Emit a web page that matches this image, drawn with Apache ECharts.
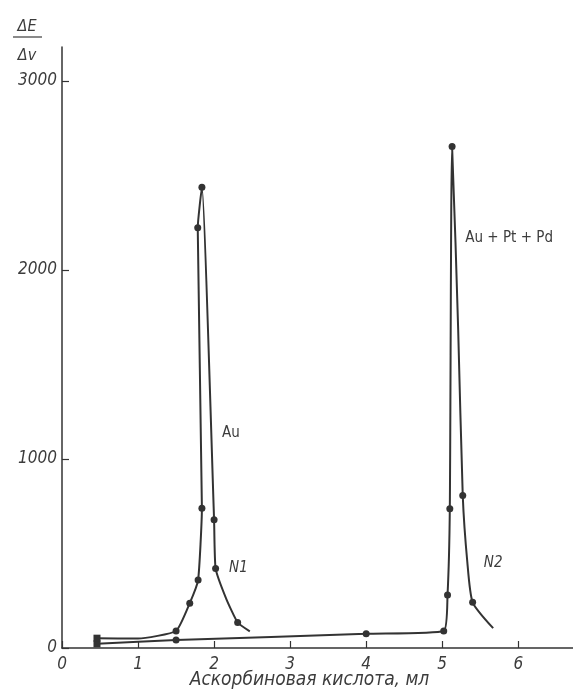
<!DOCTYPE html>
<html>
<head>
<meta charset="utf-8">
<script src="https://cdn.jsdelivr.net/npm/echarts@6/dist/echarts.min.js"></script>
<style>
html,body{margin:0;padding:0;background:#fff;}
#chart{width:573px;height:693px;}
</style>
</head>
<body>
<div id="chart"></div>
<script>
// ---- data ----
// Curve N1 (Au)
const auX = [0.46, 1.0, 1.5, 1.68, 1.79, 1.84, 1.785, 1.84, 2.0, 2.02, 2.16, 2.31, 2.47];
const auY = [52, 50, 90, 237, 360, 740, 2223, 2438, 679, 421, 260, 135, 88];
const auMeasured = [1, 0, 1, 1, 1, 1, 1, 1, 1, 1, 0, 1, 0];
// Curve N2 (Au + Pt + Pd)
const mixX = [0.46, 1.5, 4.0, 5.02, 5.07, 5.10, 5.13, 5.21, 5.27, 5.33, 5.40, 5.67];
const mixY = [22, 42, 75, 90, 281, 737, 2653, 1684, 807, 456, 242, 105];
const mixMeasured = [1, 1, 1, 1, 1, 1, 1, 0, 1, 0, 1, 0];
// tick labels
const xTicks = [0, 1, 2, 3, 4, 5, 6];
const yTicks = [0, 1000, 2000, 3000];
// annotations [x, y, text, italic]
const notes = [
  [2.22, 1135, 'Au', false],
  [2.32, 425, 'N1', true],
  [5.88, 2170, 'Au + Pt + Pd', false],
  [5.67, 450, 'N2', true]
];
const xTitle = 'Аскорбиновая кислота, мл';
const yTitleTop = 'ΔE';
const yTitleBottom = 'Δv';

const INK = '#333333';
const TXT = '#3c3c3c';
const FONT = '"DejaVu Sans Condensed", "DejaVu Sans", sans-serif';

function build(xs, ys, measured) {
  return xs.map((x, i) => ({
    value: [x, ys[i]],
    symbol: measured[i] ? (i === 0 ? 'rect' : 'circle') : 'none'
  }));
}

const chart = echarts.init(document.getElementById('chart'), null, {renderer: 'canvas'});
const option = {
  backgroundColor: '#ffffff',
  animation: false,
  grid: {left: 62, right: 0, top: 47, bottom: 45, containLabel: false, outerBoundsMode: 'none'},
  xAxis: {
    type: 'value', min: 0, max: 6.72,
    axisLine: {show: true, lineStyle: {color: INK, width: 1.5}},
    axisTick: {show: true, inside: true, length: 7, customValues: xTicks, lineStyle: {color: INK, width: 1.2}},
    axisLabel: {customValues: xTicks, margin: 8, color: TXT, fontFamily: FONT, fontStyle: 'italic', fontSize: 17,
      formatter: v => String(v)},
    splitLine: {show: false},
    name: xTitle, nameLocation: 'middle', nameGap: 23, nameMoveOverlap: false,
    nameTextStyle: {color: TXT, fontFamily: FONT, fontStyle: 'italic', fontSize: 19, padding: [0, 16, 0, 0]}
  },
  yAxis: {
    type: 'value', min: 0, max: 3180,
    axisLine: {show: true, lineStyle: {color: INK, width: 1.5}},
    axisTick: {show: true, inside: true, length: 7, customValues: yTicks, lineStyle: {color: INK, width: 1.2}},
    axisLabel: {customValues: yTicks, margin: 5, color: TXT, fontFamily: FONT, fontStyle: 'italic', fontSize: 17,
      formatter: v => String(v)},
    splitLine: {show: false}
  },
  series: [
    {
      type: 'line', data: build(mixX, mixY, mixMeasured), smooth: 0.2,
      symbolSize: 7, lineStyle: {color: INK, width: 2}, itemStyle: {color: INK}
    },
    {
      type: 'line', data: build(auX, auY, auMeasured), smooth: 0.15,
      symbolSize: 7, lineStyle: {color: INK, width: 2}, itemStyle: {color: INK}
    }
  ]
};
chart.setOption(option);

const g = notes.map(n => {
  const p = chart.convertToPixel({gridIndex: 0}, [n[0], n[1]]);
  return {
    type: 'text', x: p[0], y: p[1],
    style: {text: n[2], fill: TXT, font: (n[3] ? 'italic ' : '') + '15px ' + FONT, align: 'center', verticalAlign: 'middle'}
  };
});
g.push(
  {type: 'text', x: 27, y: 27, style: {text: yTitleTop, fill: TXT, font: 'italic 16px ' + FONT, align: 'center', verticalAlign: 'middle'}},
  {type: 'line', shape: {x1: 13, y1: 37, x2: 42, y2: 37}, style: {stroke: TXT, lineWidth: 1.2}},
  {type: 'text', x: 27, y: 56, style: {text: yTitleBottom, fill: TXT, font: 'italic 16px ' + FONT, align: 'center', verticalAlign: 'middle'}}
);
chart.setOption({graphic: g});
</script>
</body>
</html>
